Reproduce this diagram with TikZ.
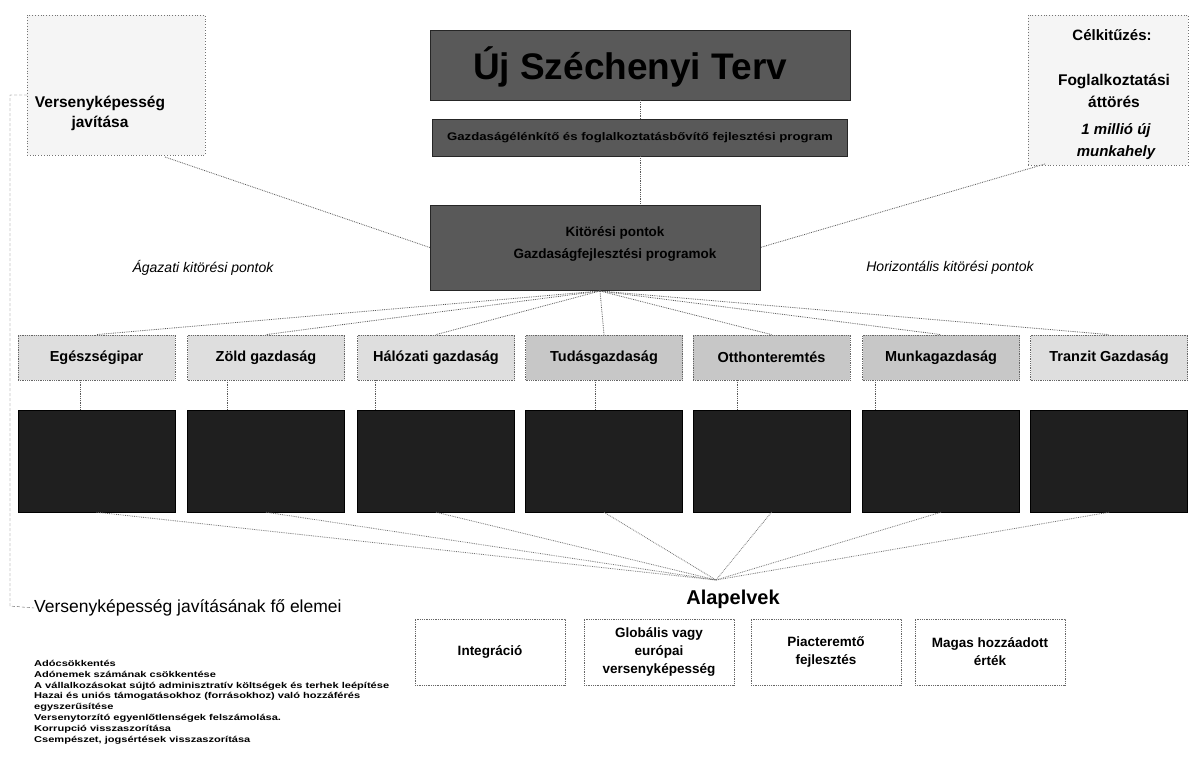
\documentclass[tikz,border=0pt]{standalone}
\usepackage{fontspec}
\setmainfont{Liberation Sans}
\newfontfamily\widesans[FakeStretch=1.3]{Liberation Sans}
\newfontfamily\midsans[FakeStretch=1.2]{Liberation Sans}
\usetikzlibrary{positioning}
\begin{document}
\begin{tikzpicture}[x=1pt,y=-1pt,
  banner/.style={draw=black!85, fill=black!65, inner sep=0pt},
  sidebox/.style={draw=black!55, dotted, thick, fill=black!4},
  sector/.style={draw=black!60, densely dotted, thick, fill=black!13, minimum width=157pt, minimum height=45pt, inner sep=0pt, font=\bfseries\fontsize{14.5}{16}\selectfont},
  darksector/.style={sector, fill=black!22},
  darkbox/.style={draw=black, fill=black!88, minimum width=157pt, minimum height=102pt, inner sep=0pt},
  principle/.style={draw=black!60, densely dotted, thick, fill=white, minimum width=150pt, minimum height=66pt, inner sep=0pt, align=center, font=\bfseries\fontsize{13.5}{18}\selectfont},
  link/.style={black!65, densely dotted, thick},
  plain/.style={inner sep=0pt}
]
\useasboundingbox (0,0) rectangle (1199,760);
\fill[white] (0,0) rectangle (1199,760);

% side boxes
\node[sidebox, minimum width=178pt, minimum height=140pt, inner sep=0pt] (lbox) at (116,85) {};
\node[plain, align=center, font=\bfseries\fontsize{15.5}{20}\selectfont] (ltext) at (100,113) {Versenyképesség\\javítása};
\node[sidebox, minimum width=160pt, minimum height=150pt, inner sep=0pt] (rbox) at (1108,90) {};
\node[plain, font=\bfseries\fontsize{15}{17}\selectfont] (rt1) at (1112,35) {Célkitűzés:};
\node[plain, align=center, font=\bfseries\fontsize{15.5}{22}\selectfont] (rt2) at (1114,91) {Foglalkoztatási\\áttörés};
\node[plain, align=center, font=\bfseries\itshape\fontsize{15}{22}\selectfont] (rt3) at (1116,142) {1 millió új\\munkahely};

% banners
\node[banner, minimum width=420pt, minimum height=70pt] (title) at (640,65) {};
\node[plain, font=\bfseries\fontsize{37}{40}\selectfont] (titletext) at (630,67) {Új Széchenyi Terv};
\node[banner, minimum width=415pt, minimum height=37pt, font=\midsans\bfseries\fontsize{11}{12}\selectfont] (sub) at (640,137.5) {Gazdaságélénkítő és foglalkoztatásbővítő fejlesztési program};
\node[banner, minimum width=330pt, minimum height=85pt] (center) at (595,247.5) {};
\node[plain, align=center, font=\bfseries\fontsize{13.5}{22}\selectfont] (centertext) at (615,244) {Kitörési pontok\\Gazdaságfejlesztési programok};

\draw[link] (title.south) -- (sub.north);
\draw[link] (sub.south) -- (sub.south |- center.north);
\coordinate (lc) at (165,157);
\coordinate (rc) at (1045,164);
\draw[link] (lc) -- (center.west);
\draw[link] (rc) -- (center.east);

\node[plain, font=\itshape\fontsize{14}{16}\selectfont] (agazati) at (203,268) {Ágazati kitörési pontok};
\node[plain, font=\itshape\fontsize{14}{16}\selectfont] (horiz) at (950,268) {Horizontális kitörési pontok};

% sectors
\coordinate (fan) at (600,291);
\coordinate (conv) at (716,580);
\foreach \i/\x/\lab/\st in {1/96.5/Egészségipar/sector, 2/266/Zöld gazdaság/sector, 3/436/Hálózati gazdaság/sector, 4/604/Tudásgazdaság/darksector, 5/771.5/Otthonteremtés/darksector, 6/941/Munkagazdaság/darksector, 7/1109/Tranzit Gazdaság/sector}{
  \node[\st] (s\i) at (\x,357.5) {\lab};
  \node[darkbox] (d\i) at (\x,461) {};
  \draw[link] (fan) -- (s\i.north);
  \draw[black!55, densely dotted, thick] (d\i.south) -- (conv);
}
\foreach \i/\cx in {1/80, 2/227, 3/375, 4/595, 5/737, 6/875}{
  \draw[link] (\cx,380) -- (\cx,410);
}

% principles
\node[plain, font=\bfseries\fontsize{20}{22}\selectfont] (alap) at (733,599) {Alapelvek};
\node[principle] (p1) at (490,652) {Integráció};
\node[principle] (p2) at (659,652) {Globális vagy\\európai\\versenyképesség};
\node[principle] (p3) at (826,652) {Piacteremtő\\fejlesztés};
\node[principle] (p4) at (990,652) {Magas hozzáadott\\érték};

% left list
\node[plain, anchor=west, font=\fontsize{17.5}{19}\selectfont] (head) at (34,608) {Versenyképesség javításának fő elemei};
\coordinate (l1) at (27,95);
\coordinate (l2) at (10,95);
\coordinate (l3) at (10,606);
\draw[black!65, densely dashed] (l1) -- (l2) -- (l3) -- (head.west);
\node[plain, anchor=north west, align=left, font=\widesans\bfseries\fontsize{8.5}{10.8}\selectfont] (list) at (34,660) {Adócsökkentés\\Adónemek számának csökkentése\\A vállalkozásokat sújtó adminisztratív költségek és terhek leépítése\\Hazai és uniós támogatásokhoz (forrásokhoz) való hozzáférés\\egyszerűsítése\\Versenytorzító egyenlőtlenségek felszámolása.\\Korrupció visszaszorítása\\Csempészet, jogsértések visszaszorítása};
\end{tikzpicture}
\end{document}
